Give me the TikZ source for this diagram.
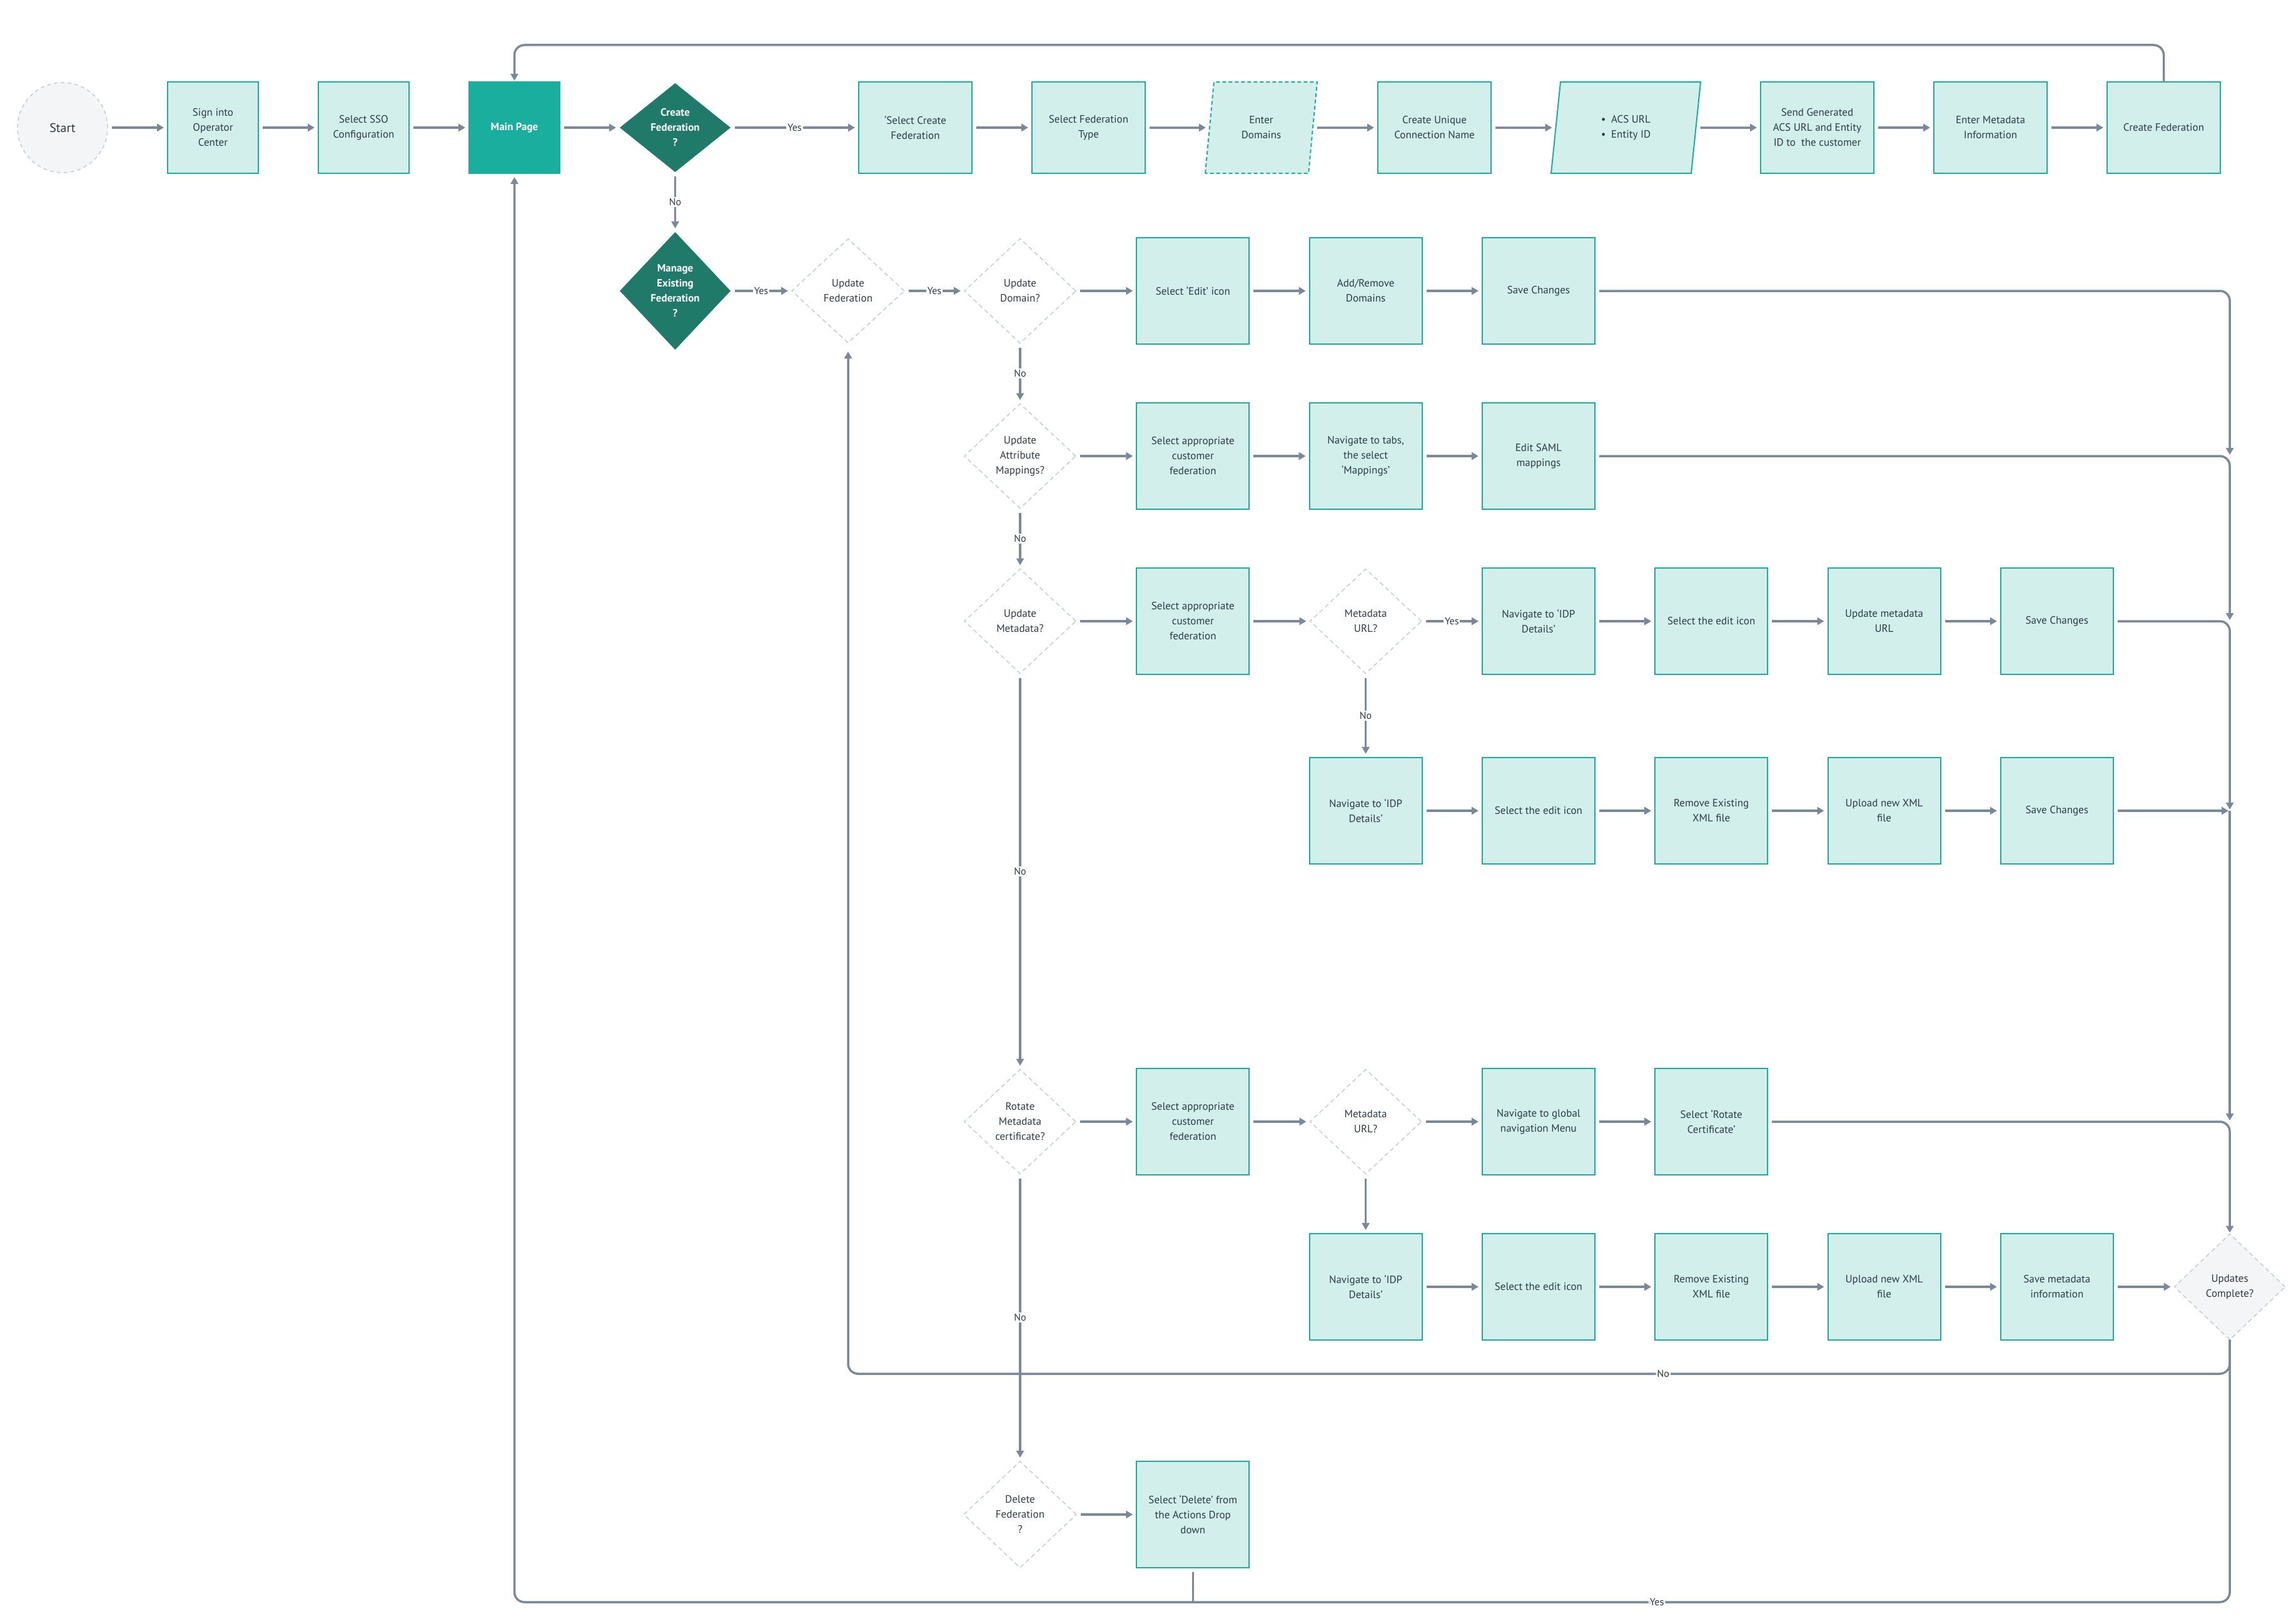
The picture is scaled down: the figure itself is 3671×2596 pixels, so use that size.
\documentclass[tikz,border=0pt]{standalone}
\usepackage{fontspec}
\setmainfont{PT Sans}
\usetikzlibrary{arrows.meta,positioning,shapes.geometric}
\definecolor{mint}{HTML}{D2EFEC}
\definecolor{jade}{HTML}{1AAE9F}
\definecolor{forest}{HTML}{1F7A6A}
\definecolor{steel}{HTML}{7A8999}
\definecolor{ink}{HTML}{2E3B47}
\definecolor{mist}{HTML}{F3F5F7}
\definecolor{haze}{HTML}{C6CDD4}
\begin{document}
\begin{tikzpicture}[x=1pt, y=-1pt,
  font=\fontsize{17}{24}\selectfont, text=ink,
  box/.style={
    draw=jade, fill=mint, line width=2pt, align=center, outer sep=0pt,
    minimum width=180pt, minimum height=170pt, inner sep=4pt
  },
  topbox/.style={box, minimum width=181pt, minimum height=146pt},
  slim/.style={box, minimum width=145pt, minimum height=146pt},
  ask/.style={
    diamond, draw=haze, fill=white, line width=1.5pt, outer sep=0pt,
    dash pattern=on 7pt off 5pt, align=center, inner sep=0pt,
    minimum width=178pt, minimum height=167pt
  },
  gate/.style={
    diamond, fill=forest, text=white, align=center, inner sep=0pt, outer sep=0pt,
    font=\fontsize{17}{24}\selectfont\bfseries, minimum width=177pt
  },
  slant/.style={
    trapezium, trapezium left angle=72, trapezium right angle=108,
    trapezium stretches body, draw=jade, fill=mint, line width=2pt,
    outer sep=0pt, align=center, minimum height=146pt
  },
  arr/.style={-{Triangle[length=11pt,width=12pt]}, line width=3.5pt, draw=steel,
    shorten <=7pt, shorten >=6pt},
  bus/.style={line width=3.5pt, draw=steel, rounded corners=16pt},
  busarr/.style={bus, -{Triangle[length=11pt,width=12pt]}, shorten >=2pt},
  lbl/.style={fill=white, inner sep=2pt, text=ink, font=\fontsize{16}{18}\selectfont}
]
  \useasboundingbox (0,0) rectangle (3671,2596);

  % creation line
  \node[circle, draw=haze, fill=mist, line width=1.5pt, dash pattern=on 6pt off 5pt,
    outer sep=0pt, minimum size=144pt, font=\fontsize{20}{24}\selectfont] (start) at (100,204) {Start};
  \node[slim, right=96pt of start] (signin) {Sign into\\Operator\\Center};
  \node[slim, right=96pt of signin] (sso) {Select SSO\\Configuration};
  \node[slim, fill=jade, text=white, font=\fontsize{17}{24}\selectfont\bfseries,
    right=96pt of sso] (main) {Main Page};
  \node[gate, minimum height=142pt, right=96pt of main] (create) {Create\\Federation\\?};
  \node[topbox, right=205pt of create] (pick) {‘Select Create\\Federation};
  \node[topbox, right=96pt of pick] (kind) {Select Federation\\Type};
  \begin{scope}[on grid]
    \node[slant, dash pattern=on 6pt off 4pt, minimum width=179pt,
      right=276pt of kind] (domains) {Enter\\Domains};
    \node[topbox, right=277pt of domains] (unique) {Create Unique\\Connection Name};
    \node[slant, align=left, minimum width=239pt, right=306pt of unique] (acs)
      {\textbullet\enspace ACS URL\\\textbullet\enspace Entity ID};
    \node[topbox, right=306pt of acs] (send) {Send Generated\\ACS URL and Entity\\ID to\ \ the customer};
  \end{scope}
  \node[topbox, right=96pt of send] (metainfo) {Enter Metadata\\Information};
  \node[topbox, right=96pt of metainfo] (makefed) {Create Federation};

  \draw[arr] (start) -- (signin);
  \draw[arr] (signin) -- (sso);
  \draw[arr] (sso) -- (main);
  \draw[arr] (main) -- (create);
  \draw[arr] (create) -- node[lbl] {Yes} (pick);
  \draw[arr] (pick) -- (kind);
  \draw[arr] (kind) -- (domains);
  \draw[arr] (domains) -- (unique);
  \draw[arr] (unique) -- (acs);
  \draw[arr] (acs) -- (send);
  \draw[arr] (send) -- (metainfo);
  \draw[arr] (metainfo) -- (makefed);

  % managing an existing federation
  \node[gate, minimum height=188pt, below=96pt of create] (manage) {Manage\\Existing\\Federation\\?};
  \node[ask, minimum width=180pt, minimum height=166pt, right=98pt of manage] (upfed) {Update\\Federation};
  \node[ask, right=96pt of upfed] (updom) {Update\\Domain?};

  \begin{scope}[on grid, node distance=276.3pt]
    \node[box, right=of updom] (editicon) {Select ‘Edit’ icon};
    \node[box, right=of editicon] (adddom) {Add/Remove\\Domains};
    \node[box, right=of adddom] (savedom) {Save Changes};

    \node[ask, below=264pt of updom] (updattr) {Update\\Attribute\\Mappings?};
    \node[box, right=of updattr] (custattr) {Select appropriate\\customer\\federation};
    \node[box, right=of custattr] (tabs) {Navigate to tabs,\\the select\\‘Mappings’};
    \node[box, right=of tabs] (saml) {Edit SAML\\mappings};

    \node[ask, below=264pt of updattr] (updmeta) {Update\\Metadata?};
    \node[box, right=of updmeta] (custmeta) {Select appropriate\\customer\\federation};
    \node[ask, right=of custmeta] (urlmeta) {Metadata\\URL?};
    \node[box, right=of urlmeta] (idpurl) {Navigate to ‘IDP\\Details’};
    \node[box, right=of idpurl] (editurl) {Select the edit icon};
    \node[box, right=of editurl] (newurl) {Update metadata\\URL};
    \node[box, right=of newurl] (saveurl) {Save Changes};

    \node[box, below=303pt of urlmeta] (idpxml) {Navigate to ‘IDP\\Details’};
    \node[box, right=of idpxml] (editxml) {Select the edit icon};
    \node[box, right=of editxml] (dropxml) {Remove Existing\\XML file};
    \node[box, right=of dropxml] (upxml) {Upload new XML\\file};
    \node[box, right=of upxml] (savexml) {Save Changes};

    \node[ask, below=800pt of updmeta] (rotate) {Rotate\\Metadata\\certificate?};
    \node[box, right=of rotate] (custrot) {Select appropriate\\customer\\federation};
    \node[ask, right=of custrot] (urlrot) {Metadata\\URL?};
    \node[box, right=of urlrot] (globalnav) {Navigate to global\\navigation Menu};
    \node[box, right=of globalnav] (rotcert) {Select ‘Rotate\\Certificate’};

    \node[box, below=264pt of urlrot] (idprot) {Navigate to ‘IDP\\Details’};
    \node[box, right=of idprot] (editrot) {Select the edit icon};
    \node[box, right=of editrot] (droprot) {Remove Existing\\XML file};
    \node[box, right=of droprot] (uprot) {Upload new XML\\file};
    \node[box, right=of uprot] (saverot) {Save metadata\\information};
    \node[ask, fill=mist, minimum width=177pt, minimum height=169pt, right=of saverot] (done) {Updates\\Complete?};

    \node[ask, minimum width=180pt, minimum height=170pt, below=628pt of rotate] (delfed) {Delete\\Federation\\?};
    \node[box, right=of delfed] (delsel) {Select ‘Delete’ from\\the Actions Drop\\down};
  \end{scope}

  \draw[arr] (create) -- node[lbl] {No} (manage);
  \draw[arr] (manage) -- node[lbl] {Yes} (upfed);
  \draw[arr] (upfed) -- node[lbl] {Yes} (updom);
  \draw[arr] (updom) -- (editicon);
  \draw[arr] (editicon) -- (adddom);
  \draw[arr] (adddom) -- (savedom);

  \draw[arr] (updom) -- node[lbl] {No} (updattr);
  \draw[arr] (updattr) -- (custattr);
  \draw[arr] (custattr) -- (tabs);
  \draw[arr] (tabs) -- (saml);

  \draw[arr] (updattr) -- node[lbl] {No} (updmeta);
  \draw[arr] (updmeta) -- (custmeta);
  \draw[arr] (custmeta) -- (urlmeta);
  \draw[arr] (urlmeta) -- node[lbl] {Yes} (idpurl);
  \draw[arr] (idpurl) -- (editurl);
  \draw[arr] (editurl) -- (newurl);
  \draw[arr] (newurl) -- (saveurl);

  \draw[arr] (urlmeta) -- node[lbl] {No} (idpxml);
  \draw[arr] (idpxml) -- (editxml);
  \draw[arr] (editxml) -- (dropxml);
  \draw[arr] (dropxml) -- (upxml);
  \draw[arr] (upxml) -- (savexml);

  \draw[arr] (updmeta) -- node[lbl] {No} (rotate);
  \draw[arr] (rotate) -- (custrot);
  \draw[arr] (custrot) -- (urlrot);
  \draw[arr] (urlrot) -- (globalnav);
  \draw[arr] (globalnav) -- (rotcert);

  \draw[arr] (urlrot) -- (idprot);
  \draw[arr] (idprot) -- (editrot);
  \draw[arr] (editrot) -- (droprot);
  \draw[arr] (droprot) -- (uprot);
  \draw[arr] (uprot) -- (saverot);
  \draw[arr] (saverot) -- (done);

  \draw[arr] (rotate) -- node[lbl] {No} (delfed);
  \draw[arr] (delfed) -- (delsel);

  % return lines
  \coordinate (roof) at (0,72);
  \coordinate (nobus) at (0,2196);
  \coordinate (yesbus) at (0,2561);
  \draw[busarr] (makefed.north) -- (makefed.north |- roof) -- (main.north |- roof) -- (main.north);
  \draw[busarr, shorten <=7pt] (savedom.east) -- (savedom.east -| done) -- (saml.east -| done);
  \draw[busarr, shorten <=7pt] (saml.east) -- (saml.east -| done) -- (saveurl.east -| done);
  \draw[busarr, shorten <=7pt] (saveurl.east) -- (saveurl.east -| done) -- (savexml.east -| done);
  \draw[busarr, shorten <=7pt] (savexml.east) -- (savexml.east -| done);
  \draw[busarr] (savexml.east -| done) -- (rotcert.east -| done);
  \draw[busarr, shorten <=7pt] (rotcert.east) -- (rotcert.east -| done) -- (done.north);
  \draw[busarr, shorten >=14pt] (done.south) -- (done.south |- nobus)
    -- node[lbl, pos=0.41] {No} (upfed.south |- nobus) -- (upfed.south);
  \draw[busarr, shorten >=6pt] (done.south) -- (done.south |- yesbus)
    -- node[lbl, pos=0.334] {Yes} (main.south |- yesbus) -- (main.south);
  \draw[bus, shorten <=7pt] (delsel.south) -- (delsel.south |- yesbus);
\end{tikzpicture}
\end{document}
